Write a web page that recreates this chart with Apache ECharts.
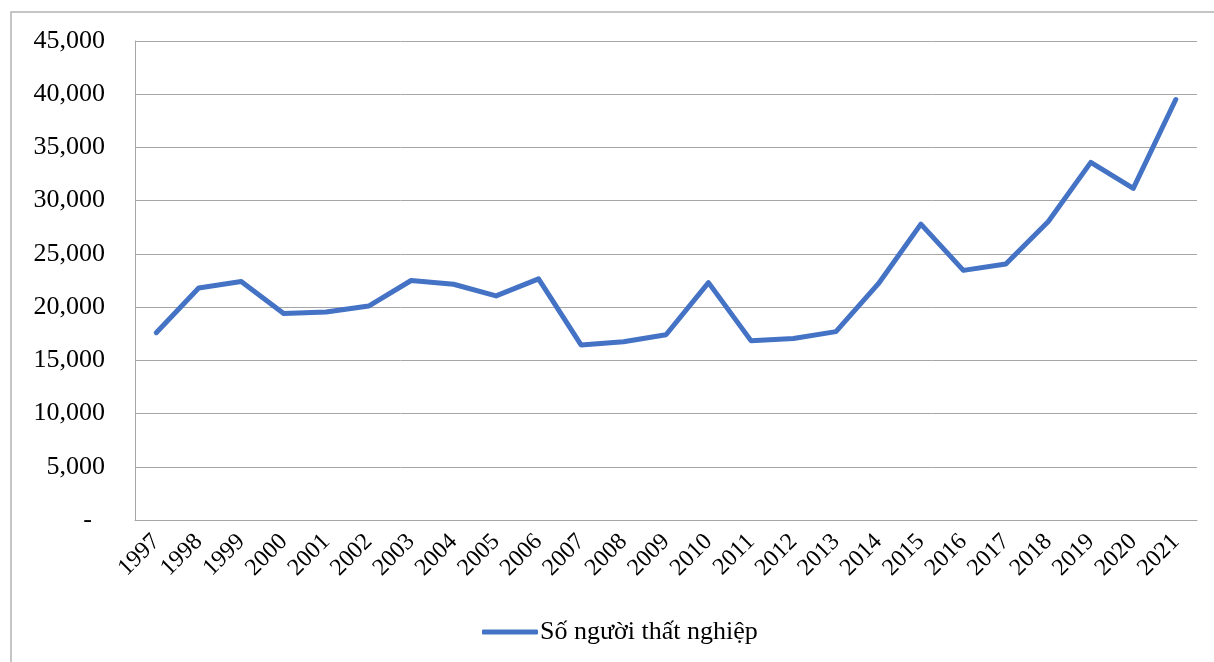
<!DOCTYPE html>
<html>
<head>
<meta charset="utf-8">
<style>
  html, body { margin: 0; padding: 0; background: #fff; }
  #chart { width: 1214px; height: 662px; }
</style>
<script src="https://cdn.jsdelivr.net/npm/echarts@6/dist/echarts.min.js"></script>
</head>
<body>
<div id="chart"></div>
<script>
// Years on the category axis
const years = ['1997','1998','1999','2000','2001','2002','2003','2004','2005','2006','2007','2008','2009',
               '2010','2011','2012','2013','2014','2015','2016','2017','2018','2019','2020','2021'];
// Number of unemployed people per year
const unemployed = [17600, 21800, 22400, 19400, 19550, 20100, 22500, 22150, 21050, 22650, 16450, 16750, 17400,
                    22300, 16850, 17050, 17700, 22200, 27800, 23450, 24050, 28050, 33600, 31150, 39500];
const seriesName = 'Số người thất nghiệp';

const serif = '"Liberation Serif", "DejaVu Serif", serif';
const gridColor = '#a6a6a6';

const chart = echarts.init(document.getElementById('chart'));
chart.setOption({
  animation: false,
  backgroundColor: '#fff',
  graphic: [{
    type: 'rect',
    shape: { x: 11, y: 12, width: 1300, height: 700 },
    style: { fill: 'none', stroke: '#b3b3b3', lineWidth: 1.5 },
    silent: true
  }],
  legend: {
    bottom: 12,
    left: 477,
    itemWidth: 56,
    itemHeight: 5,
    itemGap: 10,
    icon: 'roundRect',
    textStyle: { fontFamily: serif, fontSize: 26, color: '#000', padding: [0, 0, 0, -3] },
    data: [seriesName]
  },
  grid: {
    left: 135, right: 17, top: 41, bottom: 142,
    containLabel: false,
    outerBoundsMode: 'none'
  },
  xAxis: {
    type: 'category',
    data: years,
    boundaryGap: true,
    axisLine: { show: true, lineStyle: { color: gridColor, width: 1 } },
    axisTick: { show: false },
    axisLabel: {
      rotate: 45, margin: 18, interval: 0,
      fontFamily: serif, fontSize: 24, color: '#000'
    }
  },
  yAxis: {
    type: 'value',
    min: 0, max: 45000, interval: 5000,
    axisLine: { show: true, lineStyle: { color: gridColor, width: 1 } },
    axisTick: { show: false },
    splitLine: { show: true, lineStyle: { color: gridColor, width: 1 } },
    axisLabel: {
      margin: 30,
      fontFamily: serif, fontSize: 26, color: '#000',
      formatter: v => v === 0 ? '-  ' : v.toLocaleString('en-US')
    }
  },
  series: [{
    name: seriesName,
    type: 'line',
    data: unemployed,
    symbol: 'none',
    lineStyle: { color: '#4472C4', width: 5, cap: 'round', join: 'round' },
    itemStyle: { color: '#4472C4' }
  }]
});
</script>
</body>
</html>
